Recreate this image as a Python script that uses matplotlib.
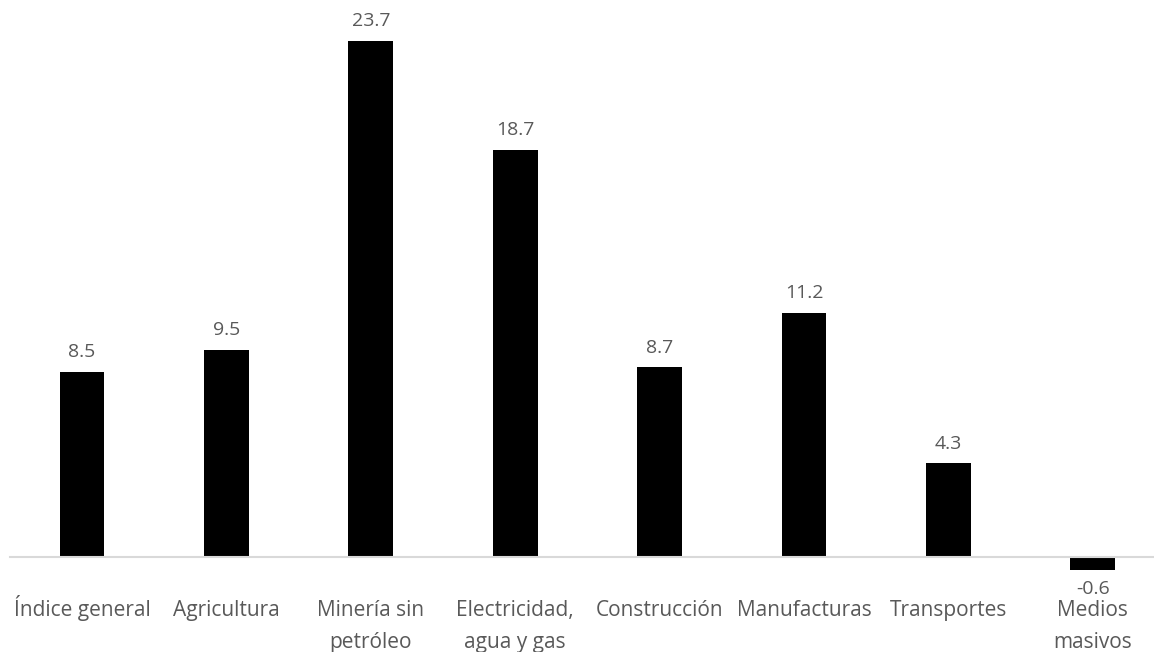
import matplotlib
matplotlib.use("Agg")
import matplotlib.pyplot as plt
from matplotlib.transforms import blended_transform_factory

categories = ["Índice general", "Agricultura", "Minería sin\npetróleo",
              "Electricidad,\nagua y gas", "Construcción", "Manufacturas",
              "Transportes", "Medios\nmasivos"]
values = [8.5, 9.5, 23.7, 18.7, 8.7, 11.2, 4.3, -0.6]
value_labels = ["8.5", "9.5", "23.7", "18.7", "8.7", "11.2", "4.3", "-0.6"]

plt.rcParams["font.family"] = ["Open Sans", "DejaVu Sans"]
TXT = "#595959"

W, H, DPI = 1154, 652, 100
fig = plt.figure(figsize=(W / DPI, H / DPI), dpi=DPI)

# axes placement in pixels
left_px, right_px = 9.8, 1165.0
top_px, bottom_px = 10.0, 580.0
ax = fig.add_axes([left_px / W, 1 - bottom_px / H,
                   (right_px - left_px) / W, (bottom_px - top_px) / H])

px_per_unit = 21.76
base_px = 556.7
ax.set_ylim(-(bottom_px - base_px) / px_per_unit, (base_px - top_px) / px_per_unit)
ax.set_xlim(-0.5, len(values) - 0.5)

x = list(range(len(values)))
ax.bar(x, values, width=0.31, color="black", zorder=2)

for s in ["top", "left", "right"]:
    ax.spines[s].set_visible(False)
ax.spines["bottom"].set_position(("data", 0))
ax.spines["bottom"].set_color("#D9D9D9")
ax.spines["bottom"].set_linewidth(1.5)
ax.set_yticks([])
ax.set_xticks([])

# category labels, one text per line so every line shares a baseline
trans = blended_transform_factory(ax.transData, fig.transFigure)
line_baselines = [616, 648]
for xi, cat in zip(x, categories):
    for k, line in enumerate(cat.split("\n")):
        ax.text(xi, 1 - line_baselines[k] / H, line, transform=trans,
                ha="center", va="baseline", fontsize=15, color=TXT)

for xi, v, lab in zip(x, values, value_labels):
    if v >= 0:
        ax.annotate(lab, (xi, v), xytext=(0, 10.5), textcoords="offset points",
                    ha="center", va="baseline", fontsize=14, color=TXT)
    else:
        ax.annotate(lab, (xi, v), xytext=(0, -17.3), textcoords="offset points",
                    ha="center", va="baseline", fontsize=14, color=TXT)

fig.savefig("out.png", dpi=DPI)
